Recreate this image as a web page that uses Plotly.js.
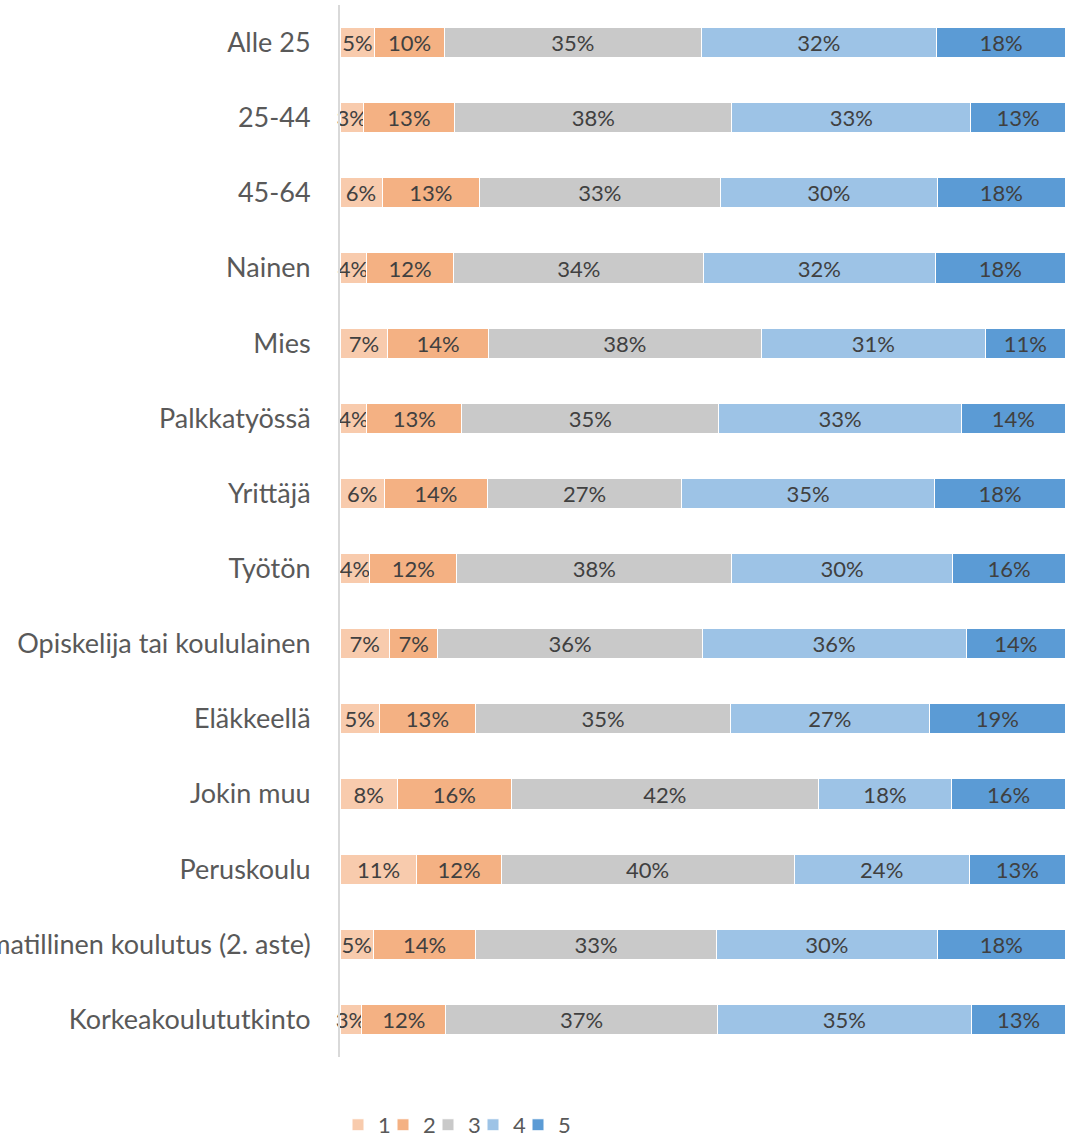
<!DOCTYPE html>
<html>
<head>
<meta charset="utf-8">
<script src="https://cdn.plot.ly/plotly-3.0.1.min.js"></script>
<style>html,body{margin:0;padding:0;background:#fff;}#chart{width:1066px;height:1133px;}</style>
</head>
<body>
<div id="chart"></div>
<script>
const categories = ["Alle 25","25-44","45-64","Nainen","Mies","Palkkatyössä","Yrittäjä","Työtön","Opiskelija tai koululainen","Eläkkeellä","Jokin muu","Peruskoulu","Ammatillinen koulutus (2. aste)","Korkeakoulututkinto"];
const seriesNames = ["1","2","3","4","5"];
const s1 = [4.8, 3.2, 5.8, 3.6, 6.6, 3.7, 6.1, 4.1, 6.8, 5.4, 7.9, 10.6, 4.6, 3.0];
const s2 = [9.6, 12.6, 13.4, 12.1, 13.8, 13.1, 14.2, 12.0, 6.7, 13.3, 15.7, 11.6, 14.1, 11.6];
const s3 = [35.4, 38.2, 33.2, 34.4, 37.7, 35.4, 26.8, 37.9, 36.4, 35.1, 42.3, 40.4, 33.2, 37.4];
const s4 = [32.4, 32.9, 29.9, 31.9, 30.8, 33.4, 34.8, 30.4, 36.4, 27.4, 18.4, 24.1, 30.4, 35.0];
const s5 = [17.8, 13.1, 17.7, 18.0, 11.1, 14.4, 18.1, 15.6, 13.7, 18.8, 15.7, 13.3, 17.7, 13.0];
const colors = ["#F8CBAD","#F4B183","#C9C9C9","#9DC3E6","#5B9BD5"];

const seriesVals = [s1, s2, s3, s4, s5];
const FONT = "Lato, 'Open Sans', sans-serif";
const legendIds = ["legend","legend2","legend3","legend4","legend5"];
const traces = seriesVals.map((vals, i) => ({
  type: "bar",
  orientation: "h",
  name: seriesNames[i],
  legend: legendIds[i],
  y: categories,
  x: vals,
  marker: {color: colors[i], line: {color: "#FFFFFF", width: 1}},
  text: vals.map(v => Math.round(v) + "%"),
  texttemplate: "%{text}",
  textposition: "inside",
  insidetextanchor: "middle",
  textangle: 0,
  constraintext: "none",
  cliponaxis: false,
  textfont: {family: FONT, size: 22, color: "#404040"},
  hoverinfo: "skip"
}));

const layout = {
  width: 1066,
  height: 1133,
  margin: {l: 340, r: 0, t: 5, b: 76, pad: 0},
  paper_bgcolor: "#FFFFFF",
  plot_bgcolor: "#FFFFFF",
  barmode: "stack",
  bargap: 0.6,
  font: {family: FONT, color: "#595959"},
  uniformtext: {mode: "show", minsize: 22},
  xaxis: {range: [0, 100.05], visible: false, fixedrange: true},
  yaxis: {
    autorange: "reversed",
    type: "category",
    showline: true,
    linecolor: "#D9D9D9",
    linewidth: 2,
    showgrid: false,
    zeroline: false,
    ticks: "",
    ticklabelstandoff: 22,
    tickfont: {family: FONT, size: 27, color: "#595959"},
    automargin: false
  },
  showlegend: true
};

legendIds.forEach((id, i) => {
  layout[id] = {
    orientation: "h",
    xref: "container",
    yref: "container",
    x: (338 + 45 * i) / 1066,
    xanchor: "left",
    y: 0.0071,
    yanchor: "middle",
    font: {family: FONT, size: 22, color: "#595959"},
    itemwidth: 30,
    bgcolor: "rgba(0,0,0,0)"
  };
});

Plotly.newPlot("chart", traces, layout, {displayModeBar: false, staticPlot: true});
</script>
</body>
</html>
